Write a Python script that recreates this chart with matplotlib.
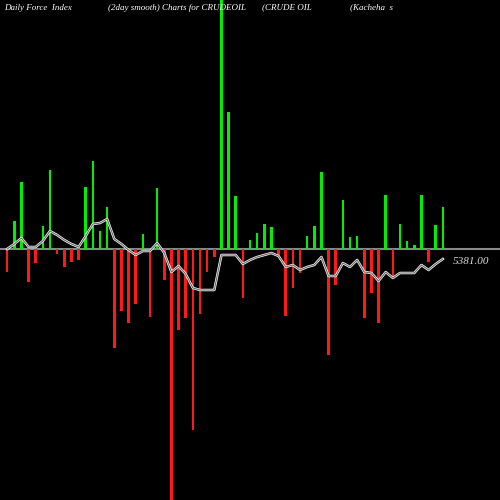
import numpy as np
from matplotlib import pyplot as plt

# force index bars (pixel-scale values, zero line at middle)
force = [-23, 28, 67, -33, -14, 23, 79, -5, -18, -13, -11, 62, 88, 18, 42,
         -99, -62, -74, -55, 15, -68, 61, -31, -260, -81, -69, -181, -65, -23, -8,
         260, 137, 53, -49, 9, 16, 25, 22, -6, -67, -39, -24, 13, 23, 77,
         -106, -36, 49, 12, 13, -69, -44, -74, 54, -28, 25, 8, 4, 54, -13, 24, 42]

# 2 day smooth line
smooth = [0, 5, 11, 2, 2, 8, 18, 14, 9, 5, 2, 13, 25, 26, 30,
          10, 5, -1, -6, -2, -2, 6, -4, -23, -17, -25, -39, -41, -41, -41,
          -6, -6, -6, -15, -11, -8, -6, -4, -7, -18, -16, -21, -18, -16, -8,
          -27, -27, -14, -18, -11, -23, -24, -32, -23, -29, -24, -24, -24, -16, -21, -15, -10]

last_value = '5381.00'

x = np.arange(len(force))
colors = ['#00ee00' if v > 0 else '#ff1a1a' for v in force]

fig = plt.figure(figsize=(5, 5), dpi=100, facecolor='black')
ax = fig.add_axes([0, 0, 1, 1], facecolor='black')
ax.axhline(0, color='#888888', lw=1.5, zorder=1)
ax.bar(x, force, width=0.35, color=colors, zorder=2)
ax.plot(x, smooth, color='white', lw=1.8, zorder=3)
ax.plot(x, smooth, color='#666666', lw=0.8, zorder=4)
ax.set_xlim(-1, 69)
ax.set_ylim(-251, 249)
ax.axis('off')

font = dict(family='Liberation Serif', style='italic', color='white', fontsize=6.5)
fig.text(0.008, 0.985, 'Daily Force  Index', va='center', **font)
fig.text(0.215, 0.985, '(2day smooth) Charts for CRUDEOIL', va='center', **font)
fig.text(0.525, 0.985, '(CRUDE OIL', va='center', **font)
fig.text(0.70, 0.985, '(Kacheha  s', va='center', **font)
ax.text(len(force) + 0.4, smooth[-1] - 2, last_value, va='center', ha='left',
        family='Liberation Serif', style='italic', color='#dddddd', fontsize=8)

fig.savefig('out.png', dpi=100, facecolor='black')
